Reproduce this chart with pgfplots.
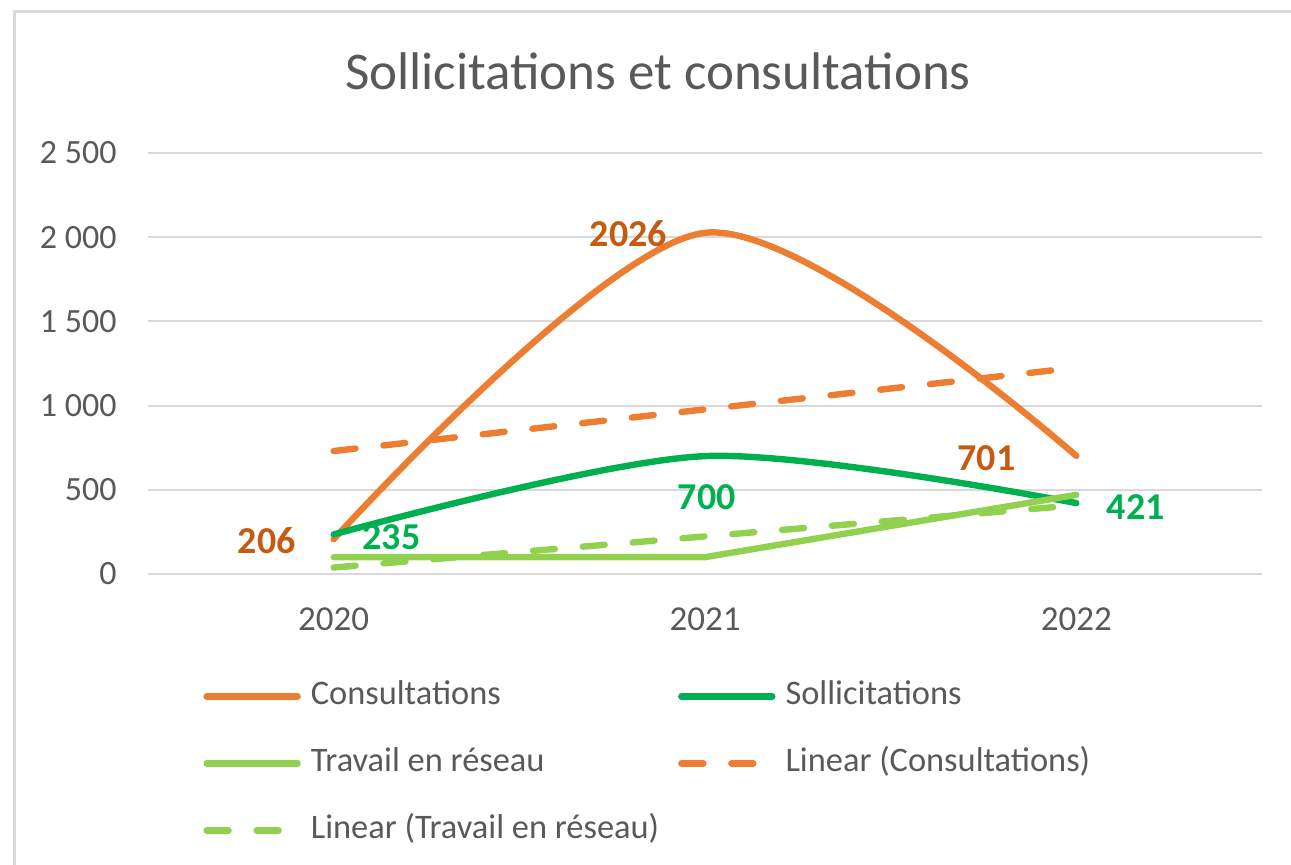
\documentclass[border=0pt]{standalone}
\usepackage{fontspec}
\setmainfont{Carlito}
\usepackage{pgfplots}
\pgfplotsset{compat=1.18}
\definecolor{cons}{HTML}{ED7D31}
\definecolor{soll}{HTML}{00B050}
\definecolor{trav}{HTML}{92D050}
\definecolor{consl}{HTML}{C55A11}
\definecolor{txt}{HTML}{595959}
\definecolor{grd}{HTML}{D9D9D9}
\begin{document}
\begin{tikzpicture}
\begin{axis}[
 at={(74pt,145.5pt)}, anchor=south west, scale only axis, width=557pt, height=210.5pt,
 xmin=-0.5, xmax=2.5, ymin=0, ymax=2500,
 xtick={0,1,2}, xticklabels={2020,2021,2022},
 ytick={0,500,1000,1500,2000,2500}, yticklabels={0,500,1 000,1 500,2 000,2 500},
 major tick length=0pt,
 axis line style={draw=none},
 ymajorgrids, grid style={grd, line width=1pt},
 tick label style={font=\fontsize{17}{20}\selectfont, text=txt},
 yticklabel style={anchor=east, inner xsep=0pt, xshift=-15.5pt},
 xticklabel style={anchor=base, inner ysep=0pt, yshift=-28.5pt, font=\fontsize{17.5}{20}\selectfont},
 clip=false,
 legend columns=2,
 legend cell align=left,
 legend style={draw=none, fill=none, at={(0.0467,-0.2518)}, anchor=north west, inner sep=0pt, row sep=17.5pt, font=\fontsize{17.2}{20}\selectfont, text=txt, nodes={inner xsep=0pt, inner ysep=0pt, text height=12pt, text depth=4pt}, /tikz/every odd column/.append style={column sep=3.5pt}, /tikz/every even column/.append style={column sep=8pt}},
 legend image code/.code={\path (0pt,0pt) (48.5pt,0pt); \draw[#1] (1.5pt,0pt) -- (47pt,0pt);},
 every axis plot/.append style={line width=3.2pt, line cap=round, line join=round},
]
\addplot[cons, smooth] coordinates {(0,206) (1,2026) (2,701)};
\addlegendentry{Consultations}
\addplot[soll, smooth] coordinates {(0,235) (1,700) (2,421)};
\addlegendentry{Sollicitations}
\addplot[trav] coordinates {(0,100) (1,100) (2,470)};
\addlegendentry{Travail en réseau}
\addplot[cons, dash pattern=on 11pt off 14pt] coordinates {(0,730.2) (2,1225.2)};
\addlegendentry{Linear (Consultations)}
\addplot[trav, dash pattern=on 11pt off 14pt] coordinates {(0,38.3) (2,408.3)};
\addlegendentry{Linear (Travail en réseau)}
\node[font=\bfseries\fontsize{19}{20}\selectfont, text=consl] at (axis cs:-0.18,196) {206};
\node[font=\bfseries\fontsize{19}{20}\selectfont, text=consl] at (axis cs:0.794,2019) {2026};
\node[font=\bfseries\fontsize{19}{20}\selectfont, text=consl] at (axis cs:1.758,689) {701};
\node[font=\bfseries\fontsize{19}{20}\selectfont, text=soll] at (axis cs:0.156,220) {235};
\node[font=\bfseries\fontsize{19}{20}\selectfont, text=soll] at (axis cs:1.005,457) {700};
\node[font=\bfseries\fontsize{19}{20}\selectfont, text=soll] at (axis cs:2.16,398) {421};
\end{axis}
\pgfresetboundingbox
\begin{scope}
\clip (0,0) rectangle (645.5pt,432.5pt);
\draw[grd, line width=1.5pt] (7pt,-5pt) -- (7pt,426.5pt) -- (660pt,426.5pt);
\end{scope}
\node[font=\fontsize{26.5}{30}\selectfont, text=txt, anchor=base] at (329pt,387.5pt) {Sollicitations et consultations};
\pgfresetboundingbox
\path[use as bounding box] (0,0) rectangle (645.5pt,432.5pt);
\end{tikzpicture}
\end{document}
